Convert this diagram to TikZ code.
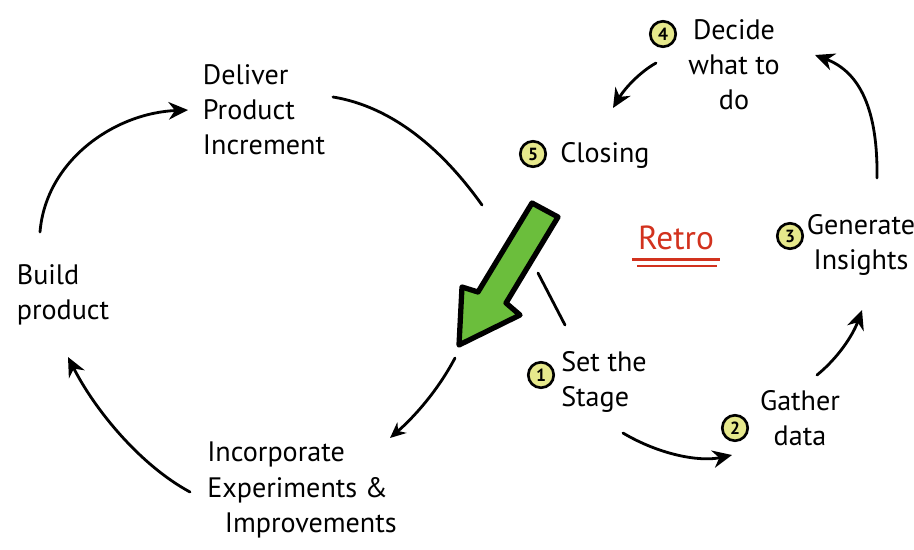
\documentclass[tikz,border=0pt]{standalone}
\usepackage{fontspec}
\setmainfont{PT Sans}
\usetikzlibrary{positioning,arrows.meta}
\definecolor{m_green}{HTML}{6BBE3C}
\definecolor{m_yellow}{HTML}{E6E88C}
\definecolor{m_red}{HTML}{D2321E}

\begin{document}
\begin{tikzpicture}[
        x=0.02cm, y=-0.02cm,
        node distance=3pt,
        every node/.style={font=\fontsize{16}{20}\selectfont},
        phase/.style={align=left, inner sep=1pt},
        stepnum/.style={circle, draw, line width=1.5pt, fill=m_yellow, minimum size=14.5pt, inner sep=0pt, font=\fontsize{10}{10}\selectfont\bfseries},
        flow/.style={line width=1.6pt, line cap=round, -{Stealth[length=11pt, width=10pt]}},
        plain/.style={line width=1.6pt, line cap=round},
        bigarrow/.style={fill=m_green, draw=black, line width=3pt, line join=round}
    ]
    \useasboundingbox (0,0) rectangle (914,549);

    % product loop
    \node[phase] (deliver) at (264,110) {Deliver\\Product\\Increment};
    \node[phase] (build) at (63,295) {Build\\product};
    \node[phase] (incorporate) at (302,490) {Incorporate\\Experiments \&\\\hspace*{10pt}Improvements};

    \coordinate (build-out) at (40,232);
    \coordinate (deliver-in) at (188,110);
    \coordinate (deliver-out) at (333,97);
    \coordinate (cross-top) at (482,205);
    \coordinate (cross-bottom) at (455,358);
    \coordinate (incorporate-in) at (390,438);
    \coordinate (incorporate-out) at (190,492);
    \coordinate (build-in) at (68,357);

    \draw[flow] (build-out) .. controls (46,160) and (115,113) .. (deliver-in);
    \draw[plain] (deliver-out) .. controls (400,108) and (450,160) .. (cross-top);
    \draw[flow, -{Stealth[length=9pt, width=8pt]}] (cross-bottom) .. controls (437,392) and (413,418) .. (incorporate-in);
    \draw[flow] (incorporate-out) .. controls (140,465) and (95,410) .. (build-in);

    % retro loop
    \node[phase] (stage) at (604,382) {Set the\\Stage};
    \node[phase, align=center] (gather) at (800,418) {Gather\\data};
    \node[phase, align=center] (generate) at (861,245) {Generate\\Insights};
    \node[phase, align=center] (decide) at (734,65) {Decide\\what to\\do};
    \node[phase] (closing) at (605,155) {Closing};
    \node[text=m_red, font=\fontsize{19}{19}\selectfont] (retro) at (676,238) {Retro};
    \draw[m_red, line width=1.5pt] ([yshift=-2pt]retro.south west) -- ([yshift=-2pt]retro.south east);
    \draw[m_red, line width=1.5pt] ([xshift=3pt, yshift=-5.5pt]retro.south west) -- ([xshift=-2pt, yshift=-5.5pt]retro.south east);

    \node[stepnum] (n1) at (541,375) {1};
    \node[stepnum] (n2) at (735,428) {2};
    \node[stepnum] (n3) at (790,236) {3};
    \node[stepnum] (n4) at (663,34) {4};
    \node[stepnum] (n5) at (533,154) {5};

    \coordinate (closing-out) at (538,273);
    \coordinate (stage-in) at (565,325);
    \coordinate (stage-out) at (623,433);
    \coordinate (gather-in) at (732,455);
    \coordinate (gather-out) at (817,375);
    \coordinate (generate-in) at (862,310);
    \coordinate (generate-out) at (877,178);
    \coordinate (decide-in) at (815,55);
    \coordinate (decide-out) at (656,63);
    \coordinate (closing-in) at (613,108);

    \draw[plain] (closing-out) -- (stage-in);
    \draw[flow] (stage-out) .. controls (660,455) and (700,462) .. (gather-in);
    \draw[flow] (gather-out) .. controls (838,358) and (853,335) .. (generate-in);
    \draw[flow] (generate-out) .. controls (878,110) and (860,72) .. (decide-in);
    \draw[flow] (decide-out) .. controls (640,72) and (625,88) .. (closing-in);

    % hand-over from retro back into the product loop
    \draw[bigarrow] (532,203) -- (558,217) -- (506,303) -- (520,315) -- (459,345)
        -- (462,287) -- (478,292) -- cycle;
\end{tikzpicture}
\end{document}
